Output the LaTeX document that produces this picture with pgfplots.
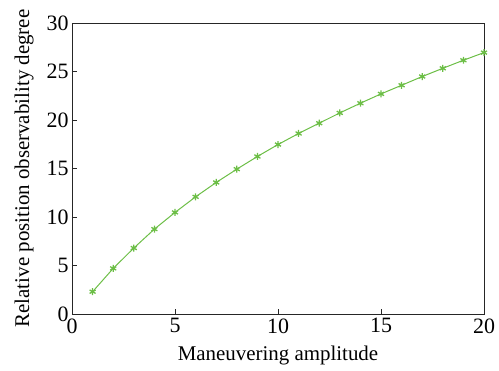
\documentclass[border=0pt]{standalone}
\usepackage{fontspec}
\setmainfont{Liberation Serif}
\usepackage{pgfplots}
\pgfplotsset{compat=1.18}
\definecolor{lgreen}{RGB}{108,190,70}
\begin{document}
\begin{tikzpicture}
\begin{axis}[
  scale only axis,
  width=412bp, height=291bp,
  xmin=0, xmax=20, ymin=0, ymax=30,
  xtick={0,5,10,15,20}, ytick={0,5,10,15,20,25,30},
  xticklabels={0,5,10,15,20},
  yticklabels={0,5,10,15,20,25,30},
  tick pos=left, tick align=inside,
  major tick length=5bp,
  axis line style={line width=0.8pt, black!85},
  tick style={black!85, line width=0.6pt},
  ticklabel style={font=\fontsize{22}{24}\selectfont},
  xticklabel style={yshift=-1bp},
  label style={font=\fontsize{21}{24}\selectfont},
  xlabel={Maneuvering amplitude},
  ylabel={Relative position observability degree},
  xlabel style={yshift=-6bp},
  ylabel style={yshift=6bp},
]
\addplot[color=lgreen, line width=1pt, mark=asterisk, mark size=3.5pt, mark options={line width=1.3pt}] coordinates {
(1,2.30) (2,4.70) (3,6.80) (4,8.75) (5,10.47) (6,12.08) (7,13.56) (8,14.93) (9,16.24) (10,17.47)
(11,18.61) (12,19.67) (13,20.73) (14,21.73) (15,22.69) (16,23.58) (17,24.48) (18,25.33) (19,26.16) (20,26.95)
};
\end{axis}
\pgfresetboundingbox
\path (current axis.south west) ++(-72bp,-57bp) rectangle ++(499bp,371bp);
\end{tikzpicture}
\end{document}
